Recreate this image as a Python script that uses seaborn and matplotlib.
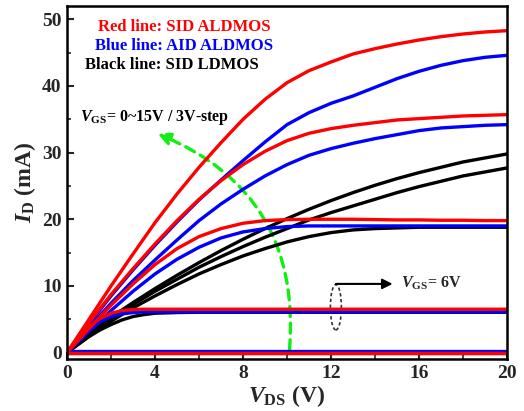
import numpy as np
import pandas as pd
import matplotlib
matplotlib.use("Agg")
import matplotlib.pyplot as plt
import seaborn as sns
from matplotlib.patches import Ellipse, FancyArrowPatch

# ---------------- data ----------------
vds = [0, 1, 2, 3, 4, 5, 6, 7, 8, 9, 10, 11, 12, 13, 14, 15, 16, 17, 18, 19, 20]
vds_fine = [0, 0.5, 1, 1.5, 2, 2.5, 3, 3.5, 4, 5, 6, 8, 10, 12, 14, 16, 18, 20]

# SID ALDMOS (red)
red_0 = [0] * 21
red_6 = [0, 2.1, 3.9, 5.1, 5.9, 6.3, 6.45, 6.5, 6.5, 6.5, 6.5, 6.5, 6.5, 6.5, 6.5, 6.5, 6.5, 6.5]
red_9 = [0, 3.6, 7.1, 10.3, 13.2, 15.6, 17.4, 18.6, 19.4, 19.8, 19.95, 20.0, 20.0, 20.0, 19.95, 19.9, 19.9, 19.85, 19.85, 19.8, 19.8]
red_12 = [0, 4.5, 8.7, 12.6, 16.3, 19.8, 23.0, 25.8, 28.2, 30.2, 31.8, 32.9, 33.6, 34.1, 34.5, 34.9, 35.1, 35.3, 35.5, 35.6, 35.7]
red_15 = [0, 5.0, 10.0, 14.8, 19.5, 23.8, 27.8, 31.5, 35.0, 38.0, 40.5, 42.3, 43.6, 44.8, 45.6, 46.3, 46.9, 47.4, 47.8, 48.1, 48.3]

# AID ALDMOS (blue)
blue_0 = [0.2] * 21
blue_6 = [0, 1.8, 3.4, 4.6, 5.4, 5.8, 6.0, 6.1, 6.1, 6.1, 6.1, 6.1, 6.1, 6.1, 6.1, 6.1, 6.1, 6.1]
blue_9 = [0, 3.2, 6.3, 9.2, 11.8, 14.0, 15.8, 17.2, 18.1, 18.6, 18.9, 19.0, 19.0, 19.0, 19.0, 19.0, 19.0, 19.0, 19.0, 19.0, 19.0]
blue_12 = [0, 3.8, 7.4, 10.8, 13.9, 16.9, 19.8, 22.3, 24.5, 26.5, 28.2, 29.6, 30.6, 31.4, 32.1, 32.7, 33.3, 33.7, 33.9, 34.1, 34.2]
blue_15 = [0, 4.3, 8.5, 12.4, 16.1, 19.6, 22.9, 25.9, 28.8, 31.6, 34.2, 36.0, 37.4, 38.5, 39.8, 41.1, 42.2, 43.1, 43.8, 44.3, 44.6]

# SID LDMOS (black)
black_0 = [0] * 21
black_6 = [0, 1.2, 2.4, 3.4, 4.2, 4.9, 5.4, 5.7, 5.9, 6.0, 6.05, 6.05, 6.05, 6.05, 6.05, 6.05, 6.05, 6.05]
black_9 = [0, 2.5, 4.7, 6.7, 8.5, 10.2, 11.8, 13.2, 14.5, 15.6, 16.6, 17.4, 18.0, 18.4, 18.6, 18.7, 18.8, 18.8, 18.8, 18.8, 18.8]
black_12 = [0, 2.7, 5.1, 7.2, 9.2, 11.0, 12.8, 14.4, 15.9, 17.3, 18.6, 19.9, 21.0, 22.0, 23.0, 24.0, 24.9, 25.7, 26.5, 27.1, 27.7]
black_15 = [0, 2.8, 5.3, 7.5, 9.6, 11.6, 13.5, 15.3, 17.0, 18.6, 20.1, 21.5, 22.8, 24.0, 25.1, 26.1, 27.0, 27.8, 28.6, 29.2, 29.8]

devices = {
    "SID LDMOS": ("black", {0: black_0, 6: black_6, 9: black_9, 12: black_12, 15: black_15}),
    "AID ALDMOS": ("#0000ff", {0: blue_0, 6: blue_6, 9: blue_9, 12: blue_12, 15: blue_15}),
    "SID ALDMOS": ("#ff0000", {0: red_0, 6: red_6, 9: red_9, 12: red_12, 15: red_15}),
}

rows = []
for dev, (col, curves) in devices.items():
    for vgs, ids in curves.items():
        xs = vds_fine if vgs == 6 else vds
        for xv, yv in zip(xs, ids):
            rows.append({"Vds": xv, "Id": yv, "device": dev, "Vgs": vgs})
df = pd.DataFrame(rows)

# ---------------- style ----------------
sns.set_theme(style="ticks")
plt.rcParams["font.family"] = ["Liberation Serif", "DejaVu Serif"]
plt.rcParams["font.weight"] = "bold"
plt.rcParams["mathtext.fontset"] = "custom"
plt.rcParams["mathtext.rm"] = "Liberation Serif:bold"
plt.rcParams["mathtext.bf"] = "Liberation Serif:bold"
plt.rcParams["mathtext.it"] = "Liberation Serif:italic:bold"

fig = plt.figure(figsize=(5.24, 4.11), dpi=100)
ax = fig.add_axes([0.128, 0.126, 0.8396, 0.8594])

for dev, (col, curves) in devices.items():
    sub = df[df["device"] == dev]
    sns.lineplot(data=sub, x="Vds", y="Id", units="Vgs", estimator=None,
                 color=col, lw=2.4, ax=ax, legend=False, sort=False)

ax.set_xlim(0, 20)
ax.set_ylim(-1, 52)
ax.set_xticks([0, 4, 8, 12, 16, 20])
ax.set_yticks([0, 10, 20, 30, 40, 50])
ax.set_xticks(np.arange(2, 20, 4), minor=True)
ax.set_yticks(np.arange(5, 50, 10), minor=True)
ax.tick_params(which="major", direction="in", length=5, width=1.5, labelsize=14, pad=4)
ax.tick_params(which="minor", direction="in", length=3, width=1.2)
for lab in ax.get_xticklabels() + ax.get_yticklabels():
    lab.set_fontweight("bold")
for sp in ax.spines.values():
    sp.set_linewidth(1.8)
    sp.set_color("black")

ax.set_xlabel(r"$V_{\rm DS}$ (V)", fontsize=17, fontweight="bold", labelpad=1)
ax.set_ylabel(r"$I_{\rm D}$ (mA)", fontsize=17, fontweight="bold", labelpad=3)

# legend-like texts
ax.text(1.41, 48.8, "Red line: SID ALDMOS", color="#ff0000", fontsize=12, fontweight="bold", va="center")
ax.text(1.27, 46.0, "Blue line: AID ALDMOS", color="#0000ff", fontsize=12, fontweight="bold", va="center")
ax.text(0.82, 43.1, "Black line: SID LDMOS", color="black", fontsize=12, fontweight="bold", va="center")
ax.text(0.6, 35.2, r"$V_{\rm GS}$= 0~15V / 3V-step", color="black", fontsize=11.5, fontweight="bold", va="center")

# green dashed curved arrow
arr = FancyArrowPatch((10.1, 0.0), (4.0, 33.0), connectionstyle="arc3,rad=0.37",
                      arrowstyle="-|>", mutation_scale=18, color="#11ee11",
                      lw=2.4, linestyle=(0, (3, 2)))
ax.add_patch(arr)

# VGS = 6V marker
ax.add_patch(Ellipse((12.22, 6.8), width=0.5, height=6.8, fill=False,
                     ls=(0, (2, 1.5)), lw=1.2, ec="#333333"))
ax.annotate("", xy=(14.8, 10.3), xytext=(12.22, 10.3),
            arrowprops=dict(arrowstyle="-|>", color="black", lw=1.5, mutation_scale=15,
                            shrinkA=0, shrinkB=0))
ax.text(15.2, 10.4, r"$V_{\rm GS}$= 6V", fontsize=11.5, fontweight="bold", va="center")

fig.savefig("out.png", dpi=100)
